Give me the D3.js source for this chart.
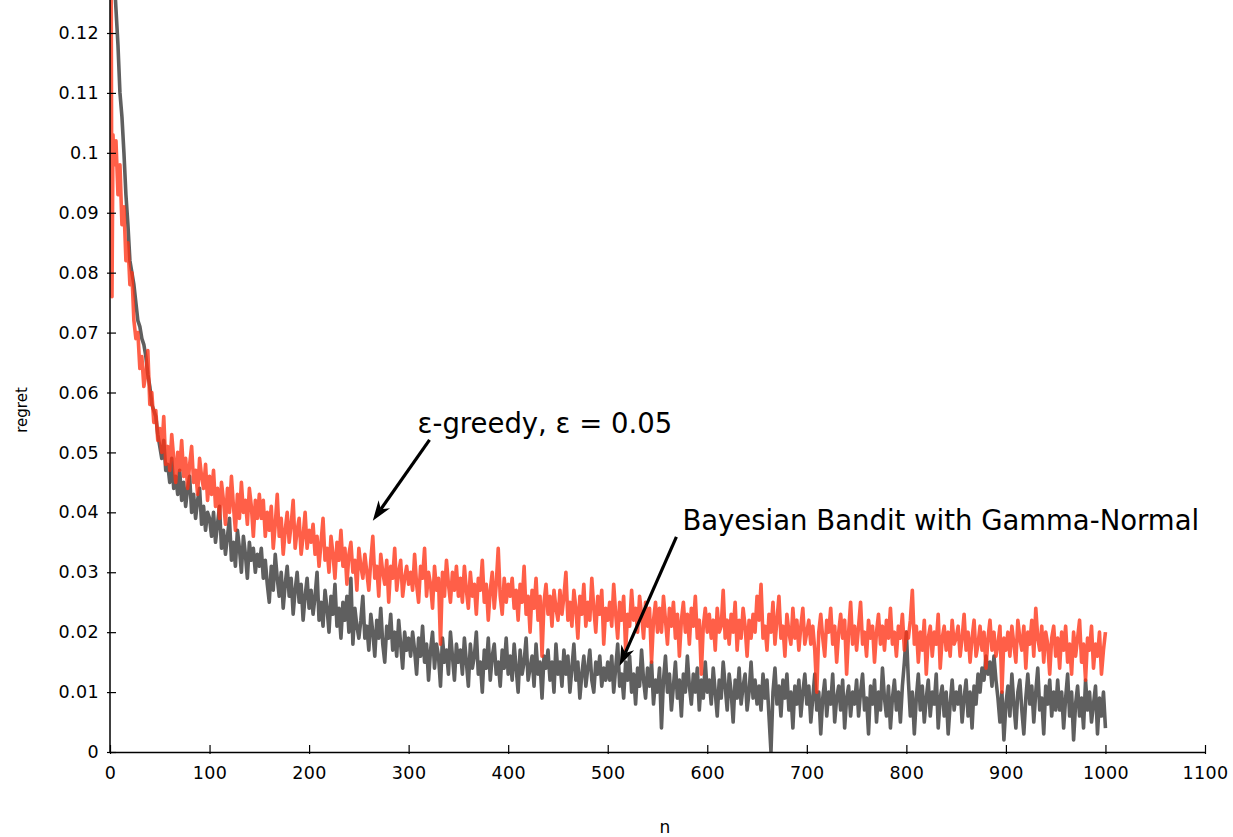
<!DOCTYPE html>
<html>
<head>
<meta charset="utf-8">
<script src="https://cdn.jsdelivr.net/npm/d3@7"></script>
<style>
	body { margin: 0; background: #fff; }
	svg text { font-family: "DejaVu Sans", Verdana, sans-serif; fill: #000; }
</style>
</head>
<body>
<div id="chart"></div>
<script>
// n values: first few trials, then every 2nd trial
var nValues = [1, 2, 3].concat(d3.range(4, 1001, 2));

// Bayesian Bandit with Gamma-Normal (grey), one row = 50 trials
var bayesRegret = [
	0.160, 0.150, 0.140,
	0.130, 0.124, 0.118, 0.110, 0.106, 0.100, 0.093, 0.088, 0.082, 0.080, 0.078, 0.075, 0.072, 0.071, 0.069, 0.068, 0.066, 0.063, 0.061, 0.058, 0.057, 0.056, 0.053, 0.051,
	0.049, 0.052, 0.047, 0.048, 0.045, 0.049, 0.044, 0.046, 0.043, 0.047, 0.042, 0.045, 0.041, 0.044, 0.046, 0.040, 0.043, 0.039, 0.042, 0.044, 0.038, 0.041, 0.037, 0.040, 0.039,
	0.036, 0.040, 0.035, 0.038, 0.041, 0.034, 0.037, 0.033, 0.036, 0.039, 0.032, 0.035, 0.031, 0.037, 0.034, 0.030, 0.036, 0.033, 0.029, 0.035, 0.032, 0.034, 0.030, 0.033, 0.031,
	0.034, 0.029, 0.032, 0.028, 0.025, 0.031, 0.027, 0.033, 0.029, 0.026, 0.030, 0.024, 0.028, 0.031, 0.026, 0.029, 0.023, 0.027, 0.030, 0.025, 0.028, 0.022, 0.026, 0.029, 0.024,
	0.027, 0.023, 0.026, 0.030, 0.022, 0.025, 0.021, 0.027, 0.024, 0.020, 0.026, 0.023, 0.028, 0.021, 0.024, 0.019, 0.025, 0.022, 0.026, 0.020, 0.029, 0.018, 0.024, 0.021, 0.019,
	0.022, 0.026, 0.019, 0.021, 0.017, 0.023, 0.020, 0.016, 0.022, 0.019, 0.024, 0.018, 0.015, 0.021, 0.019, 0.023, 0.017, 0.020, 0.016, 0.022, 0.018, 0.014, 0.020, 0.017, 0.019,
	0.016, 0.020, 0.017, 0.013, 0.019, 0.016, 0.021, 0.015, 0.018, 0.012, 0.017, 0.020, 0.014, 0.018, 0.016, 0.011, 0.019, 0.015, 0.017, 0.013, 0.020, 0.016, 0.012, 0.018, 0.015,
	0.017, 0.013, 0.019, 0.015, 0.011, 0.018, 0.014, 0.016, 0.020, 0.013, 0.015, 0.010, 0.017, 0.014, 0.019, 0.012, 0.016, 0.018, 0.013, 0.015, 0.011, 0.017, 0.014, 0.019, 0.013,
	0.016, 0.012, 0.018, 0.014, 0.010, 0.017, 0.013, 0.015, 0.019, 0.012, 0.014, 0.016, 0.011, 0.018, 0.013, 0.015, 0.009, 0.016, 0.014, 0.017, 0.012, 0.015, 0.010, 0.018, 0.013,
	0.015, 0.011, 0.017, 0.013, 0.016, 0.010, 0.014, 0.018, 0.012, 0.015, 0.009, 0.013, 0.016, 0.011, 0.014, 0.017, 0.012, 0.010, 0.015, 0.013, 0.016, 0.011, 0.014, 0.012, 0.015,
	0.012, 0.016, 0.010, 0.014, 0.018, 0.011, 0.013, 0.009, 0.015, 0.012, 0.016, 0.010, 0.013, 0.008, 0.014, 0.011, 0.017, 0.012, 0.009, 0.014, 0.011, 0.015, 0.008, 0.012, 0.010,
	0.014, 0.004, 0.012, 0.016, 0.010, 0.013, 0.007, 0.011, 0.015, 0.009, 0.012, 0.006, 0.013, 0.010, 0.016, 0.011, 0.008, 0.013, 0.010, 0.014, 0.007, 0.012, 0.009, 0.015, 0.010,
	0.012, 0.008, 0.014, 0.010, 0.006, 0.012, 0.009, 0.015, 0.011, 0.007, 0.013, 0.010, 0.005, 0.012, 0.009, 0.014, 0.008, 0.011, 0.013, 0.007, 0.010, 0.015, 0.009, 0.012, 0.008,
	0.011, 0.007, 0.013, 0.009, 0.012, 0.006, 0.000, 0.010, 0.014, 0.008, 0.011, 0.006, 0.012, 0.009, 0.013, 0.007, 0.010, 0.004, 0.011, 0.008, 0.012, 0.006, 0.010, 0.013, 0.008,
	0.011, 0.005, 0.009, 0.013, 0.007, 0.010, 0.003, 0.009, 0.012, 0.006, 0.010, 0.008, 0.013, 0.005, 0.009, 0.011, 0.007, 0.012, 0.004, 0.009, 0.011, 0.006, 0.010, 0.008, 0.012,
	0.006, 0.010, 0.013, 0.007, 0.009, 0.003, 0.011, 0.008, 0.012, 0.005, 0.010, 0.007, 0.014, 0.009, 0.006, 0.011, 0.004, 0.009, 0.012, 0.007, 0.010, 0.005, 0.011, 0.015, 0.020,
	0.012, 0.006, 0.010, 0.003, 0.009, 0.013, 0.007, 0.011, 0.005, 0.009, 0.012, 0.006, 0.010, 0.008, 0.013, 0.004, 0.009, 0.011, 0.006, 0.010, 0.003, 0.008, 0.012, 0.007, 0.010,
	0.008, 0.011, 0.005, 0.009, 0.012, 0.006, 0.010, 0.004, 0.011, 0.008, 0.013, 0.010, 0.014, 0.012, 0.016, 0.013, 0.015, 0.011, 0.016, 0.012, 0.009, 0.005, 0.010, 0.002, 0.008,
	0.011, 0.006, 0.013, 0.008, 0.004, 0.010, 0.012, 0.007, 0.003, 0.009, 0.013, 0.008, 0.011, 0.005, 0.010, 0.014, 0.007, 0.009, 0.003, 0.011, 0.008, 0.012, 0.006, 0.010, 0.007,
	0.012, 0.007, 0.010, 0.004, 0.009, 0.013, 0.006, 0.010, 0.002, 0.008, 0.011, 0.006, 0.009, 0.004, 0.012, 0.007, 0.010, 0.005, 0.008, 0.011, 0.003, 0.009, 0.006, 0.010, 0.004
];

// epsilon-greedy, eps = 0.05 (red), one row = 50 trials
var greedyRegret = [
	0.140, 0.076, 0.103,
	0.098, 0.102, 0.093, 0.098, 0.088, 0.091, 0.082, 0.085, 0.078, 0.080, 0.072, 0.069, 0.070, 0.064, 0.066, 0.061, 0.063, 0.067, 0.058, 0.060, 0.055, 0.057, 0.052, 0.054,
	0.050, 0.056, 0.048, 0.051, 0.047, 0.053, 0.049, 0.045, 0.050, 0.047, 0.052, 0.046, 0.049, 0.044, 0.048, 0.051, 0.045, 0.047, 0.043, 0.049, 0.046, 0.044, 0.048, 0.042, 0.046,
	0.043, 0.047, 0.041, 0.044, 0.039, 0.045, 0.042, 0.038, 0.044, 0.040, 0.046, 0.041, 0.037, 0.043, 0.039, 0.045, 0.040, 0.042, 0.038, 0.044, 0.041, 0.036, 0.042, 0.039, 0.043,
	0.039, 0.042, 0.036, 0.040, 0.037, 0.041, 0.034, 0.038, 0.043, 0.036, 0.039, 0.033, 0.037, 0.040, 0.035, 0.038, 0.042, 0.034, 0.037, 0.039, 0.033, 0.036, 0.040, 0.034, 0.037,
	0.035, 0.038, 0.033, 0.036, 0.031, 0.035, 0.039, 0.032, 0.034, 0.030, 0.036, 0.033, 0.029, 0.035, 0.032, 0.037, 0.031, 0.034, 0.028, 0.033, 0.035, 0.030, 0.032, 0.027, 0.034,
	0.031, 0.029, 0.033, 0.030, 0.027, 0.032, 0.036, 0.029, 0.031, 0.026, 0.033, 0.030, 0.028, 0.032, 0.025, 0.031, 0.029, 0.034, 0.027, 0.030, 0.032, 0.026, 0.029, 0.031, 0.028,
	0.030, 0.027, 0.033, 0.028, 0.025, 0.031, 0.029, 0.034, 0.026, 0.030, 0.028, 0.024, 0.031, 0.027, 0.029, 0.018, 0.030, 0.026, 0.032, 0.028, 0.025, 0.030, 0.027, 0.031, 0.026,
	0.029, 0.025, 0.031, 0.027, 0.024, 0.030, 0.026, 0.028, 0.023, 0.029, 0.027, 0.032, 0.025, 0.028, 0.022, 0.027, 0.030, 0.024, 0.028, 0.034, 0.026, 0.023, 0.029, 0.025, 0.028,
	0.026, 0.029, 0.024, 0.027, 0.022, 0.028, 0.025, 0.031, 0.023, 0.026, 0.020, 0.027, 0.024, 0.029, 0.022, 0.026, 0.016, 0.025, 0.028, 0.023, 0.026, 0.021, 0.027, 0.024, 0.022,
	0.027, 0.023, 0.026, 0.030, 0.022, 0.025, 0.021, 0.027, 0.024, 0.019, 0.026, 0.023, 0.028, 0.021, 0.025, 0.022, 0.029, 0.024, 0.020, 0.026, 0.023, 0.027, 0.018, 0.024, 0.022,
	0.025, 0.021, 0.028, 0.023, 0.019, 0.025, 0.022, 0.026, 0.017, 0.023, 0.021, 0.027, 0.022, 0.024, 0.020, 0.026, 0.023, 0.019, 0.025, 0.021, 0.024, 0.015, 0.022, 0.025, 0.020,
	0.024, 0.020, 0.026, 0.022, 0.018, 0.024, 0.021, 0.025, 0.019, 0.023, 0.016, 0.022, 0.025, 0.020, 0.023, 0.018, 0.024, 0.021, 0.026, 0.019, 0.022, 0.013, 0.021, 0.024, 0.020,
	0.023, 0.019, 0.022, 0.017, 0.024, 0.020, 0.021, 0.027, 0.019, 0.022, 0.018, 0.023, 0.020, 0.025, 0.017, 0.022, 0.019, 0.024, 0.021, 0.016, 0.022, 0.019, 0.023, 0.020, 0.026,
	0.022, 0.028, 0.019, 0.021, 0.017, 0.023, 0.020, 0.025, 0.018, 0.022, 0.026, 0.019, 0.021, 0.016, 0.023, 0.020, 0.018, 0.024, 0.019, 0.022, 0.017, 0.021, 0.024, 0.018, 0.020,
	0.022, 0.018, 0.021, 0.017, 0.010, 0.020, 0.023, 0.019, 0.016, 0.022, 0.020, 0.024, 0.018, 0.021, 0.015, 0.020, 0.023, 0.019, 0.022, 0.013, 0.020, 0.025, 0.018, 0.021, 0.017,
	0.021, 0.025, 0.018, 0.020, 0.016, 0.022, 0.019, 0.021, 0.015, 0.020, 0.023, 0.018, 0.021, 0.017, 0.022, 0.019, 0.024, 0.018, 0.020, 0.016, 0.021, 0.019, 0.023, 0.017, 0.020,
	0.019, 0.022, 0.027, 0.018, 0.021, 0.015, 0.020, 0.017, 0.022, 0.013, 0.019, 0.021, 0.016, 0.020, 0.018, 0.023, 0.014, 0.019, 0.021, 0.017, 0.020, 0.016, 0.022, 0.018, 0.019,
	0.021, 0.016, 0.019, 0.023, 0.017, 0.020, 0.015, 0.019, 0.022, 0.016, 0.018, 0.021, 0.017, 0.020, 0.014, 0.019, 0.022, 0.017, 0.020, 0.016, 0.018, 0.021, 0.010, 0.019, 0.017,
	0.020, 0.016, 0.021, 0.018, 0.015, 0.022, 0.019, 0.017, 0.021, 0.014, 0.020, 0.018, 0.022, 0.016, 0.024, 0.019, 0.017, 0.021, 0.015, 0.020, 0.018, 0.013, 0.019, 0.021, 0.016,
	0.019, 0.014, 0.020, 0.017, 0.021, 0.015, 0.018, 0.013, 0.020, 0.016, 0.019, 0.022, 0.015, 0.018, 0.012, 0.019, 0.017, 0.021, 0.014, 0.018, 0.016, 0.020, 0.013, 0.017, 0.020
];

var xTicks = [0, 100, 200, 300, 400, 500, 600, 700, 800, 900, 1000, 1100];
var yTicks = [0, 0.01, 0.02, 0.03, 0.04, 0.05, 0.06, 0.07, 0.08, 0.09, 0.1, 0.11, 0.12];

// annotations in data units: [label, textX, textY, arrowFromX, arrowFromY, arrowToX, arrowToY]
var notes = [
	["ε-greedy, ε = 0.05", 309, 0.0533, 321, 0.0521, 264, 0.0386],
	["Bayesian Bandit with Gamma-Normal", 575, 0.0371, 569, 0.0359, 512, 0.0144]
];

var width = 1233, height = 837;
var x = d3.scaleLinear().domain([0, 1100]).range([110, 1205]);
var y = d3.scaleLinear().domain([0, 0.12]).range([752, 33]);

var svg = d3.select("#chart").append("svg")
	.attr("width", width)
	.attr("height", height);

svg.append("clipPath").attr("id", "plotclip")
	.append("rect")
	.attr("x", x(0)).attr("y", 0)
	.attr("width", x(1100) - x(0)).attr("height", y(0));

var line = d3.line()
	.x(function (d) { return x(d[0]); })
	.y(function (d) { return y(d[1]); });

var plot = svg.append("g").attr("clip-path", "url(#plotclip)");

plot.append("path")
	.datum(nValues.map(function (n, i) { return [n, bayesRegret[i]]; }))
	.attr("d", line)
	.attr("fill", "none")
	.attr("stroke", "#5f5f5f")
	.attr("stroke-width", 3.6)
	.attr("stroke-linejoin", "round");

plot.append("path")
	.datum(nValues.map(function (n, i) { return [n, greedyRegret[i]]; }))
	.attr("d", line)
	.attr("fill", "none")
	.attr("stroke", "rgb(255,50,20)")
	.attr("stroke-opacity", 0.78)
	.attr("stroke-width", 3.6)
	.attr("stroke-linejoin", "round");

// axes
var xAxis = svg.append("g")
	.attr("transform", "translate(0," + y(0) + ")")
	.call(d3.axisBottom(x).tickValues(xTicks).tickSizeInner(2).tickSizeOuter(0).tickPadding(13)
		.tickFormat(d3.format("d")));
xAxis.selectAll(".tick").append("line").attr("stroke", "#000").attr("y2", -7);

var yAxis = svg.append("g")
	.attr("transform", "translate(" + x(0) + ",0)")
	.call(d3.axisLeft(y).tickValues(yTicks).tickSizeInner(3).tickSizeOuter(0).tickPadding(8)
		.tickFormat(function (d) { return d3.format("")(+d.toFixed(2)); }));
yAxis.selectAll(".tick").append("line").attr("stroke", "#000").attr("x2", 6);
yAxis.select(".domain").attr("d", "M0,0V" + y(0));

[xAxis, yAxis].forEach(function (a) {
	a.selectAll("path.domain").attr("stroke-width", 1.5);
	a.selectAll(".tick line").attr("stroke-width", 1.2);
	a.selectAll(".tick text")
		.style("font-size", "17.5px")
		.style("letter-spacing", "0.4px")
		.style("font-family", "DejaVu Sans, sans-serif");
});

svg.append("text")
	.attr("x", 665).attr("y", 833)
	.attr("text-anchor", "middle")
	.style("font-size", "17px")
	.text("n");

svg.append("text")
	.attr("transform", "translate(27,410) rotate(-90)")
	.attr("text-anchor", "middle")
	.style("font-size", "15px")
	.text("regret");

// annotation arrows
notes.forEach(function (d) {
	var x1 = x(d[3]), y1 = y(d[4]), x2 = x(d[5]), y2 = y(d[6]);
	var ang = Math.atan2(y2 - y1, x2 - x1);
	var len = 20, hw = 7, notch = 14;
	var ux = Math.cos(ang), uy = Math.sin(ang);
	var bx = x2 - ux * len, by = y2 - uy * len;
	var nx = x2 - ux * notch, ny = y2 - uy * notch;

	svg.append("line")
		.attr("x1", x1).attr("y1", y1)
		.attr("x2", nx).attr("y2", ny)
		.attr("stroke", "#000")
		.attr("stroke-width", 3.2);

	svg.append("path")
		.attr("d", "M" + x2 + "," + y2 +
			"L" + (bx - uy * hw) + "," + (by + ux * hw) +
			"L" + nx + "," + ny +
			"L" + (bx + uy * hw) + "," + (by - ux * hw) + "Z")
		.attr("fill", "#000");

	svg.append("text")
		.attr("x", x(d[1])).attr("y", y(d[2]))
		.style("font-size", "27.5px")
		.text(d[0]);
});
</script>
</body>
</html>
